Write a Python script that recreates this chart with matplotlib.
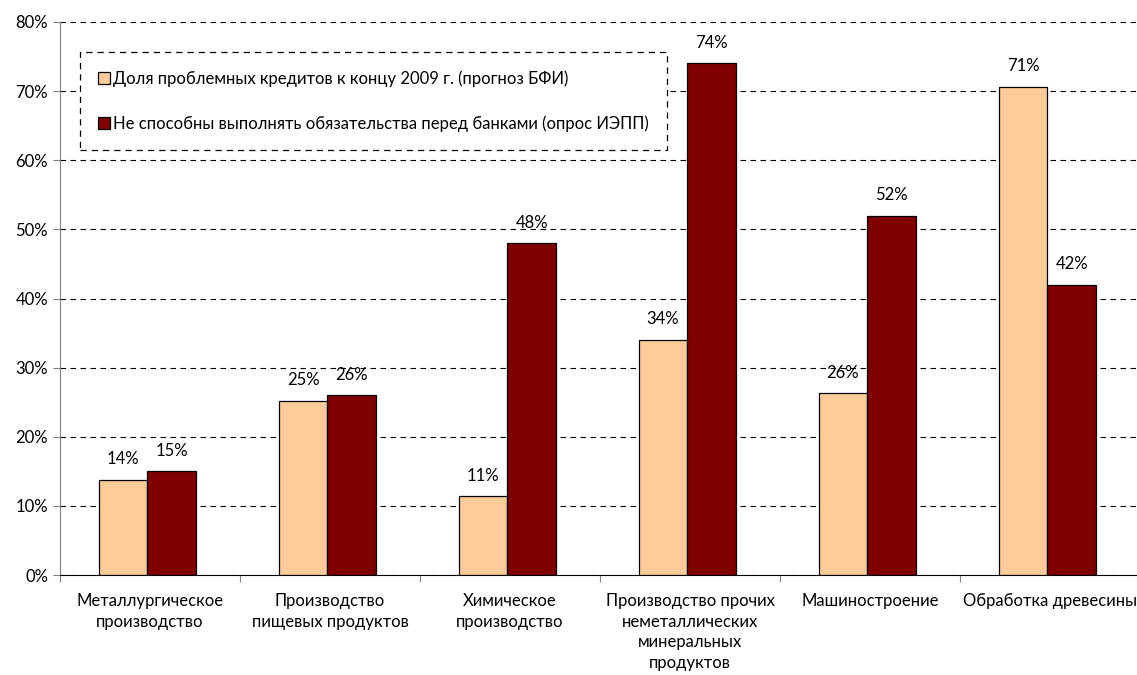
import numpy as np
import matplotlib.pyplot as plt
from matplotlib.ticker import FuncFormatter

plt.rcParams['font.family'] = ['Lato', 'DejaVu Sans']

# ----------------------------
# Dados
# ----------------------------
categorias = ['Металлургическое\nпроизводство',
              'Производство\nпищевых продуктов',
              'Химическое\nпроизводство',
              'Производство прочих\nнеметаллических\nминеральных\nпродуктов',
              'Машиностроение',
              'Обработка древесины']
prognoz_bfi = [13.8, 25.2, 11.4, 34.0, 26.3, 70.6]
opros_ieep = [15.0, 26.0, 48.0, 74.0, 52.0, 42.0]
rotulos_bfi = ['14%', '25%', '11%', '34%', '26%', '71%']
rotulos_ieep = ['15%', '26%', '48%', '74%', '52%', '42%']
serie_nomes = ['Доля проблемных кредитов к концу 2009 г. (прогноз БФИ)',
               'Не способны выполнять обязательства перед банками (опрос ИЭПП)']

# ----------------------------
# Plot
# ----------------------------
fig = plt.figure(figsize=(11.37, 6.75), dpi=100)
ax = fig.add_axes([60/1137, 100/675, 1080/1137, 553/675])

fs = 12
x = np.arange(len(categorias))
w = 0.27
b1 = ax.bar(x - w/2 - 0.015, prognoz_bfi, w, color='#FFCC99', edgecolor='black', linewidth=0.9,
            label=serie_nomes[0], zorder=3)
b2 = ax.bar(x + w/2 - 0.015, opros_ieep, w, color='#800000', edgecolor='black', linewidth=0.9,
            label=serie_nomes[1], zorder=3)

for barras, rot in ((b1, rotulos_bfi), (b2, rotulos_ieep)):
    for b, t in zip(barras, rot):
        ax.annotate(t, (b.get_x() + b.get_width()/2, b.get_height()),
                    xytext=(0, 9), textcoords='offset points',
                    ha='center', va='bottom', fontsize=fs)

ax.set_xlim(-0.5, len(categorias) - 0.5)
ax.set_ylim(0, 80)
ax.set_yticks(np.arange(0, 81, 10))
ax.yaxis.set_major_formatter(FuncFormatter(lambda v, p: f'{v:.0f}%'))
ax.yaxis.grid(True, linestyle=(0, (5, 4)), color='black', linewidth=0.8, zorder=0)

ax.set_xticks(np.arange(-0.5, len(categorias), 1.0))
ax.set_xticklabels([])
ax.set_xticks(x, minor=True)
ax.set_xticklabels(categorias, minor=True, fontsize=fs, linespacing=1.35)
ax.tick_params(axis='x', which='minor', length=0, pad=13)
ax.tick_params(axis='x', which='major', length=5, direction='out', color='#808080')
ax.tick_params(axis='y', length=5, direction='out', color='#808080', labelsize=fs)

for s in ('top', 'right'):
    ax.spines[s].set_visible(False)
ax.spines['left'].set_color('#808080')
ax.spines['bottom'].set_color('black')

leg = ax.legend(loc='upper left', bbox_to_anchor=(20/1080, 1 - 30/553), fontsize=fs,
                handlelength=0.7, handleheight=0.7, handletextpad=0.2,
                labelspacing=1.7, borderpad=1.1, borderaxespad=0, fancybox=False, framealpha=1)
leg.get_frame().set_edgecolor('black')
leg.get_frame().set_linestyle((0, (5, 4)))
leg.get_frame().set_linewidth(0.9)

fig.savefig('out.png', dpi=100)
